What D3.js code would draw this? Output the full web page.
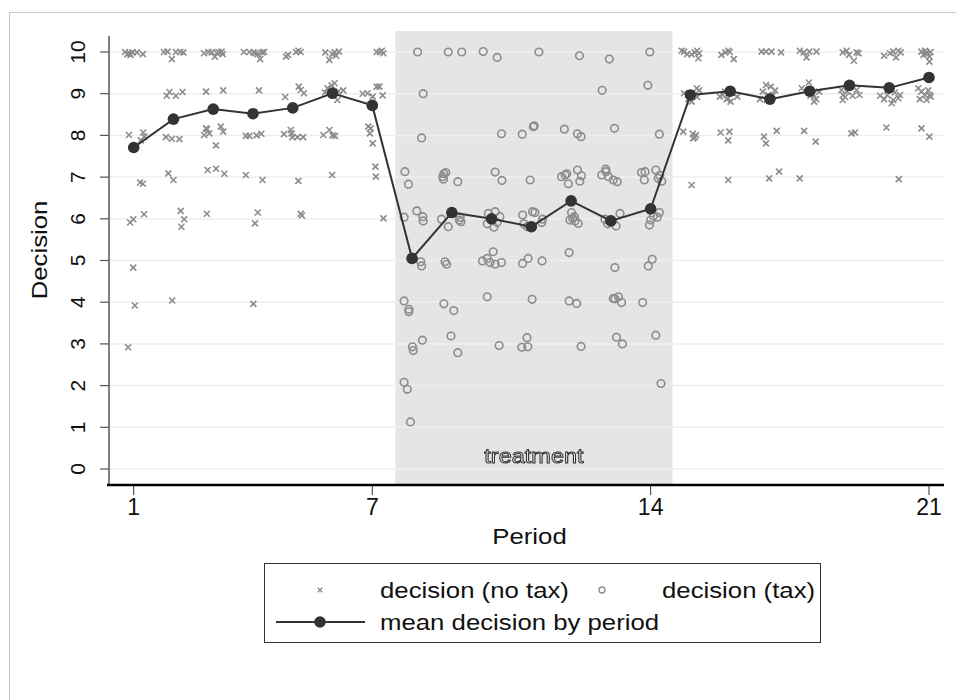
<!DOCTYPE html>
<html>
<head>
<meta charset="utf-8">
<script src="https://cdn.jsdelivr.net/npm/d3@7"></script>
<style>
  html, body { margin: 0; padding: 0; background: #fff; }
  svg { display: block; font-family: "Liberation Sans", Arial, sans-serif; }
</style>
</head>
<body>
<svg id="chart" width="956" height="700"></svg>
<script>
// Periods shown on the x axis and decision levels on the y axis
const periodTicks = [1, 7, 14, 21];
const decisionTicks = [0, 1, 2, 3, 4, 5, 6, 7, 8, 9, 10];
const periods = d3.range(1, 22);

// Mean decision in each period
const meanDecision = [7.71, 8.39, 8.63, 8.52, 8.66, 9.01, 8.72, 5.05, 6.15, 6.00, 5.81,
                      6.43, 5.95, 6.24, 8.97, 9.06, 8.87, 9.06, 9.20, 9.14, 9.39];

// Treatment window (tax periods)
const treatmentSpan = [7.58, 14.55];
const treatmentTop = 10.5;
const treatmentLabel = "treatment";

// Individual decisions without tax: [jittered period, jittered decision]
const noTaxPoints = [
  // period 1
  [0.78,10.0],[0.84,9.95],[0.89,9.97],[0.97,9.99],[1.08,9.99],[1.23,9.95],[0.92,9.93],
  [0.88,8.01],[1.24,8.07],[1.27,7.97],[1.18,7.88],[1.16,6.87],[1.23,6.84],
  [0.91,5.91],[0.99,5.99],[1.26,6.11],[0.99,4.83],[1.03,3.92],[0.86,2.92],
  // period 2
  [1.76,10.0],[1.85,10.01],[1.96,9.83],[2.06,10.0],[2.17,10.0],[2.25,9.99],
  [1.83,8.95],[1.90,9.04],[2.06,8.95],[2.23,9.04],[1.81,7.96],[1.96,7.92],[2.15,7.91],
  [1.87,7.09],[2.0,6.93],[2.18,6.19],[2.27,5.99],[2.20,5.81],[1.97,4.04],
  // period 3
  [2.77,9.97],[2.88,10.0],[2.96,9.99],[3.04,9.89],[3.13,10.0],[3.21,10.01],[3.24,9.95],[3.09,9.97],
  [2.82,9.05],[3.25,9.08],[2.77,8.01],[2.84,8.15],[2.90,8.05],[2.82,8.17],[3.07,7.76],[3.19,8.21],[3.25,8.09],
  [2.86,7.17],[3.07,7.2],[3.28,7.08],[2.84,6.12],
  // period 4
  [3.77,10.0],[3.91,10.0],[4.01,9.99],[4.12,9.95],[4.18,9.83],[4.23,9.99],[4.28,10.0],[4.06,9.97],
  [4.15,9.08],[3.82,7.99],[3.91,7.99],[4.09,8.0],[4.21,8.04],[3.82,7.05],[4.24,6.93],
  [4.12,6.15],[4.05,5.89],[4.01,3.96],
  // period 5
  [4.83,9.89],[4.88,9.93],[5.08,10.0],[5.14,10.03],[5.20,10.0],
  [4.81,8.92],[5.15,9.17],[5.20,9.09],[5.28,9.01],
  [4.78,8.03],[4.95,8.13],[4.99,7.96],[5.12,7.96],[5.26,7.96],[4.97,8.05],
  [5.14,6.91],[5.20,6.12],[5.23,6.08],
  // period 6
  [5.82,9.99],[5.92,9.81],[5.99,9.95],[6.05,9.99],[6.16,10.01],[6.09,9.91],
  [5.81,9.03],[5.87,9.13],[5.98,9.20],[6.05,9.25],[6.15,9.06],[6.27,9.08],[6.12,8.85],[5.94,9.09],
  [5.77,8.01],[5.92,8.13],[6.0,8.0],[6.06,7.99],[5.99,7.05],
  // period 7
  [7.11,10.0],[7.19,10.0],[7.28,9.97],[7.24,10.03],
  [6.76,9.0],[6.88,9.01],[7.01,8.93],[7.11,9.17],[7.18,9.17],[7.26,8.96],
  [6.90,8.21],[6.96,8.17],[6.94,8.05],[7.01,7.81],[7.08,7.25],[7.09,7.01],[7.28,6.01],
  // period 15
  [14.78,10.03],[14.84,10.01],[14.92,9.95],[15.03,9.94],[15.11,9.99],[15.17,10.03],[15.20,9.85],[15.22,9.97],
  [14.84,9.01],[14.95,8.87],[15.03,8.81],[15.16,9.13],[15.22,9.08],[15.17,8.92],
  [14.82,8.09],[15.06,8.04],[15.11,7.96],[15.14,8.01],[15.07,7.93],[15.03,6.81],
  // period 16
  [15.78,9.93],[15.88,9.99],[15.95,10.03],[15.99,10.0],[16.09,9.83],
  [15.74,8.93],[15.81,8.97],[15.91,8.87],[16.01,8.81],[16.06,9.01],[16.18,8.93],[15.87,9.05],[15.95,8.89],
  [15.76,8.07],[15.98,8.09],[15.95,7.88],[15.95,6.93],
  // period 17
  [16.79,10.01],[16.90,10.01],[17.04,10.01],[17.28,9.99],
  [16.75,8.87],[16.82,9.05],[16.90,9.21],[17.02,9.17],[17.13,9.08],[16.96,8.97],[16.92,8.85],[17.07,8.96],
  [16.85,7.97],[16.90,7.81],[17.17,8.11],[16.98,6.97],[17.23,7.13],
  // period 18
  [17.75,10.03],[17.85,9.99],[17.92,9.87],[17.99,10.01],[18.17,10.01],
  [17.80,9.13],[17.98,9.27],[18.09,8.99],[18.16,8.87],[18.24,9.05],[18.02,8.95],[18.11,8.81],
  [17.86,8.11],[18.15,7.85],[17.75,6.97],
  // period 19
  [18.83,9.99],[18.93,10.03],[18.99,9.93],[19.11,9.79],[19.18,9.99],[19.23,9.97],
  [18.80,9.09],[18.84,8.97],[18.83,8.85],[18.94,9.05],[19.08,8.95],[19.25,8.97],[19.18,9.09],[18.89,8.92],
  [19.05,8.05],[19.14,8.07],
  // period 20
  [19.87,9.91],[20.02,9.97],[20.10,10.01],[20.17,9.87],[20.23,10.03],[20.29,9.99],
  [19.77,8.95],[19.87,8.87],[19.95,8.97],[20.06,8.77],[20.14,9.03],[20.23,8.89],[20.27,8.97],[20.10,8.85],
  [19.93,8.19],[20.24,6.95],
  // period 21
  [20.81,10.01],[20.90,10.03],[20.94,9.95],[21.01,9.89],[21.04,10.0],[20.86,9.93],[21.01,9.77],[20.94,9.99],
  [20.81,9.05],[20.73,9.13],[20.77,8.87],[20.94,8.85],[21.02,8.97],[20.98,9.08],[21.04,8.93],[20.90,8.97],
  [20.81,8.17],[21.01,7.97]
];

// Individual decisions with tax: [jittered period, jittered decision]
const taxPoints = [
  // period 8
  [8.14,10.0],[8.28,9.0],[8.24,7.94],[7.82,7.13],[7.91,6.83],[7.80,6.04],[8.12,6.19],[8.27,6.05],[8.28,5.95],
  [8.22,4.97],[8.24,4.87],[7.80,4.03],[7.92,3.83],[7.92,3.77],[8.01,2.93],[8.03,2.84],[8.26,3.09],
  [7.80,2.08],[7.88,1.91],[7.96,1.13],
  // period 9
  [8.91,10.0],[9.25,10.0],[8.77,7.01],[8.80,7.08],[8.85,7.11],[8.79,6.95],[9.15,6.89],
  [8.74,5.99],[8.91,5.81],[9.21,6.04],[9.23,5.93],[9.19,5.97],
  [8.83,4.97],[8.87,4.91],[8.80,3.96],[9.05,3.80],[8.98,3.19],[9.15,2.79],
  // period 10
  [9.79,10.01],[10.14,9.87],[10.25,8.04],[10.09,7.12],[10.26,6.92],
  [9.92,6.13],[10.09,6.17],[10.21,6.05],[9.89,5.88],[10.06,5.8],[10.14,5.91],
  [9.77,4.99],[9.89,5.05],[9.96,4.95],[10.04,5.21],[10.09,4.91],[10.25,4.95],[9.89,4.13],[10.19,2.96],
  // period 11
  [11.19,10.0],[10.77,8.03],[11.05,8.21],[11.07,8.23],[10.97,6.93],
  [10.78,6.09],[11.03,6.17],[11.09,6.15],[11.28,5.99],[11.26,5.91],[10.81,5.88],[10.90,5.81],
  [10.78,4.93],[10.92,5.05],[11.27,4.99],[11.02,4.07],[10.76,2.92],[10.91,2.93],[10.89,3.15],
  // period 12
  [12.21,9.91],[11.83,8.15],[12.16,8.04],[12.25,7.97],
  [11.76,7.01],[11.85,7.05],[11.89,7.08],[12.16,7.17],[12.26,7.03],[12.22,6.9],[11.93,6.84],
  [12.01,6.15],[12.04,6.01],[12.10,5.95],[12.18,5.89],[11.97,5.97],[12.08,6.05],
  [11.95,5.19],[11.95,4.03],[12.14,3.97],[12.25,2.94],
  // period 13
  [12.96,9.83],[12.78,9.08],[13.09,8.17],
  [12.77,7.05],[12.87,7.19],[12.94,7.01],[13.06,6.93],[13.16,6.89],[12.88,7.13],
  [12.85,5.99],[12.92,5.88],[13.13,5.83],[13.23,6.13],
  [13.10,4.83],[13.06,4.09],[13.19,4.13],[13.27,3.99],[13.10,4.08],[13.14,3.16],[13.29,3.0],
  // period 14
  [13.98,10.0],[13.93,9.2],[14.22,8.03],
  [13.77,7.11],[13.86,7.13],[13.84,6.93],[14.13,7.17],[14.23,7.04],[14.28,6.9],[14.19,6.97],
  [13.97,5.85],[14.00,5.97],[14.07,6.07],[14.22,6.15],[14.17,6.04],
  [14.04,5.03],[13.94,4.87],[13.80,3.99],[14.13,3.21],[14.26,2.05]
];

const legendItems = ["decision (no tax)", "decision (tax)", "mean decision by period"];

// ---- layout ----
const plotLeft = 109, plotRight = 944, plotTop = 36, plotBottom = 485;
const markerGray = "#8c8c8c";
const meanColor = "#333333";
const textWiden = 1.12;   // the graph font runs a little wider than Liberation Sans

const svg = d3.select("#chart");
const x = d3.scaleLinear().domain([1, 21]).range([133.7, 929]);
const y = d3.scaleLinear().domain([0, 10]).range([469, 52]);

// pass-through filter: rasterises the outlined label in greyscale
svg.append("defs").append("filter")
  .attr("id", "flat")
  .append("feOffset").attr("dx", 0).attr("dy", 0);

// outer graph frame
svg.append("rect")
  .attr("x", 9.5).attr("y", 12.5)
  .attr("width", 956).attr("height", 700)
  .attr("fill", "#fff").attr("stroke", "#c8c8c8").attr("stroke-width", 1);

// treatment shading
svg.append("rect")
  .attr("x", x(treatmentSpan[0]))
  .attr("y", y(treatmentTop))
  .attr("width", x(treatmentSpan[1]) - x(treatmentSpan[0]))
  .attr("height", plotBottom - y(treatmentTop))
  .attr("fill", "#e5e5e5");

// horizontal gridlines
svg.append("g").selectAll("line")
  .data(decisionTicks)
  .join("line")
  .attr("x1", plotLeft).attr("x2", plotRight)
  .attr("y1", d => y(d)).attr("y2", d => y(d))
  .attr("stroke", "#eaf0f2").attr("stroke-width", 1.5);

// treatment label (outlined lettering)
svg.append("text")
  .attr("transform", `translate(${x((treatmentSpan[0] + treatmentSpan[1]) / 2)},463) scale(${textWiden},1)`)
  .attr("text-anchor", "middle")
  .attr("font-size", 21)
  .attr("fill", "#fafafa")
  .attr("stroke", "#333")
  .attr("stroke-width", 1)
  .attr("filter", "url(#flat)")
  .text(treatmentLabel);

// y axis
const yAxis = svg.append("g");
yAxis.append("line")
  .attr("x1", plotLeft).attr("x2", plotLeft)
  .attr("y1", plotTop).attr("y2", plotBottom)
  .attr("stroke", "#555").attr("stroke-width", 1.5);
yAxis.selectAll("line.tick")
  .data(decisionTicks)
  .join("line").attr("class", "tick")
  .attr("x1", plotLeft - 9).attr("x2", plotLeft)
  .attr("y1", d => y(d)).attr("y2", d => y(d))
  .attr("stroke", "#555").attr("stroke-width", 1.2);
yAxis.selectAll("text")
  .data(decisionTicks)
  .join("text")
  .attr("transform", d => `translate(77,${y(d)}) rotate(-90)`)
  .attr("text-anchor", "middle")
  .attr("dominant-baseline", "central")
  .attr("font-size", 21)
  .attr("fill", "#111")
  .text(d => d);
svg.append("text")
  .attr("transform", `translate(39,250) rotate(-90) scale(${textWiden},1)`)
  .attr("text-anchor", "middle")
  .attr("dominant-baseline", "central")
  .attr("font-size", 23)
  .attr("fill", "#111")
  .text("Decision");

// x axis
const xAxis = svg.append("g");
xAxis.selectAll("line.tick")
  .data(periodTicks)
  .join("line").attr("class", "tick")
  .attr("x1", d => x(d)).attr("x2", d => x(d))
  .attr("y1", plotBottom).attr("y2", plotBottom + 10)
  .attr("stroke", "#333").attr("stroke-width", 1);
xAxis.append("line")
  .attr("x1", plotLeft - 2).attr("x2", plotRight)
  .attr("y1", plotBottom).attr("y2", plotBottom)
  .attr("stroke", "#000").attr("stroke-width", 2.5);
xAxis.selectAll("text")
  .data(periodTicks)
  .join("text")
  .attr("x", d => x(d)).attr("y", 515)
  .attr("text-anchor", "middle")
  .attr("font-size", 23)
  .attr("fill", "#111")
  .text(d => d);
svg.append("text")
  .attr("transform", `translate(${(plotLeft + plotRight) / 2 + 3},544) scale(${textWiden},1)`)
  .attr("text-anchor", "middle")
  .attr("font-size", 23)
  .attr("fill", "#111")
  .text("Period");

// marker drawing helpers
function crossPath(s) {
  return `M${-s},${-s}L${s},${s}M${-s},${s}L${s},${-s}`;
}

// no-tax decisions (crosses)
svg.append("g").selectAll("path")
  .data(noTaxPoints)
  .join("path")
  .attr("transform", d => `translate(${x(d[0])},${y(d[1])})`)
  .attr("d", crossPath(3))
  .attr("stroke", markerGray).attr("stroke-width", 1.6).attr("fill", "none");

// tax decisions (hollow circles)
svg.append("g").selectAll("circle")
  .data(taxPoints)
  .join("circle")
  .attr("cx", d => x(d[0])).attr("cy", d => y(d[1]))
  .attr("r", 3.8)
  .attr("fill", "none").attr("stroke", markerGray).attr("stroke-width", 1.6);

// mean decision line
const line = d3.line().x((d, i) => x(periods[i])).y(d => y(d));
svg.append("path")
  .datum(meanDecision)
  .attr("d", line)
  .attr("fill", "none").attr("stroke", meanColor).attr("stroke-width", 2);
svg.append("g").selectAll("circle")
  .data(meanDecision)
  .join("circle")
  .attr("cx", (d, i) => x(periods[i])).attr("cy", d => y(d))
  .attr("r", 5.8)
  .attr("fill", meanColor);

// legend
const lg = svg.append("g");
lg.append("rect")
  .attr("x", 264.5).attr("y", 563.5)
  .attr("width", 556).attr("height", 79)
  .attr("fill", "#fff").attr("stroke", "#333").attr("stroke-width", 1);
lg.append("path")
  .attr("transform", "translate(320,590)")
  .attr("d", crossPath(2.3))
  .attr("stroke", markerGray).attr("stroke-width", 1.3);
lg.append("circle")
  .attr("cx", 602).attr("cy", 590).attr("r", 3)
  .attr("fill", "none").attr("stroke", markerGray).attr("stroke-width", 1.3);
lg.append("line")
  .attr("x1", 276).attr("x2", 365).attr("y1", 622).attr("y2", 622)
  .attr("stroke", meanColor).attr("stroke-width", 2);
lg.append("circle")
  .attr("cx", 320).attr("cy", 622).attr("r", 5.8).attr("fill", meanColor);
const legendPos = [[380, 590], [662, 590], [380, 622]];
lg.selectAll("text")
  .data(legendItems)
  .join("text")
  .attr("transform", (d, i) => `translate(${legendPos[i][0]},${legendPos[i][1]}) scale(${textWiden},1)`)
  .attr("dominant-baseline", "central")
  .attr("font-size", 23)
  .attr("fill", "#111")
  .text(d => d);
</script>
</body>
</html>
